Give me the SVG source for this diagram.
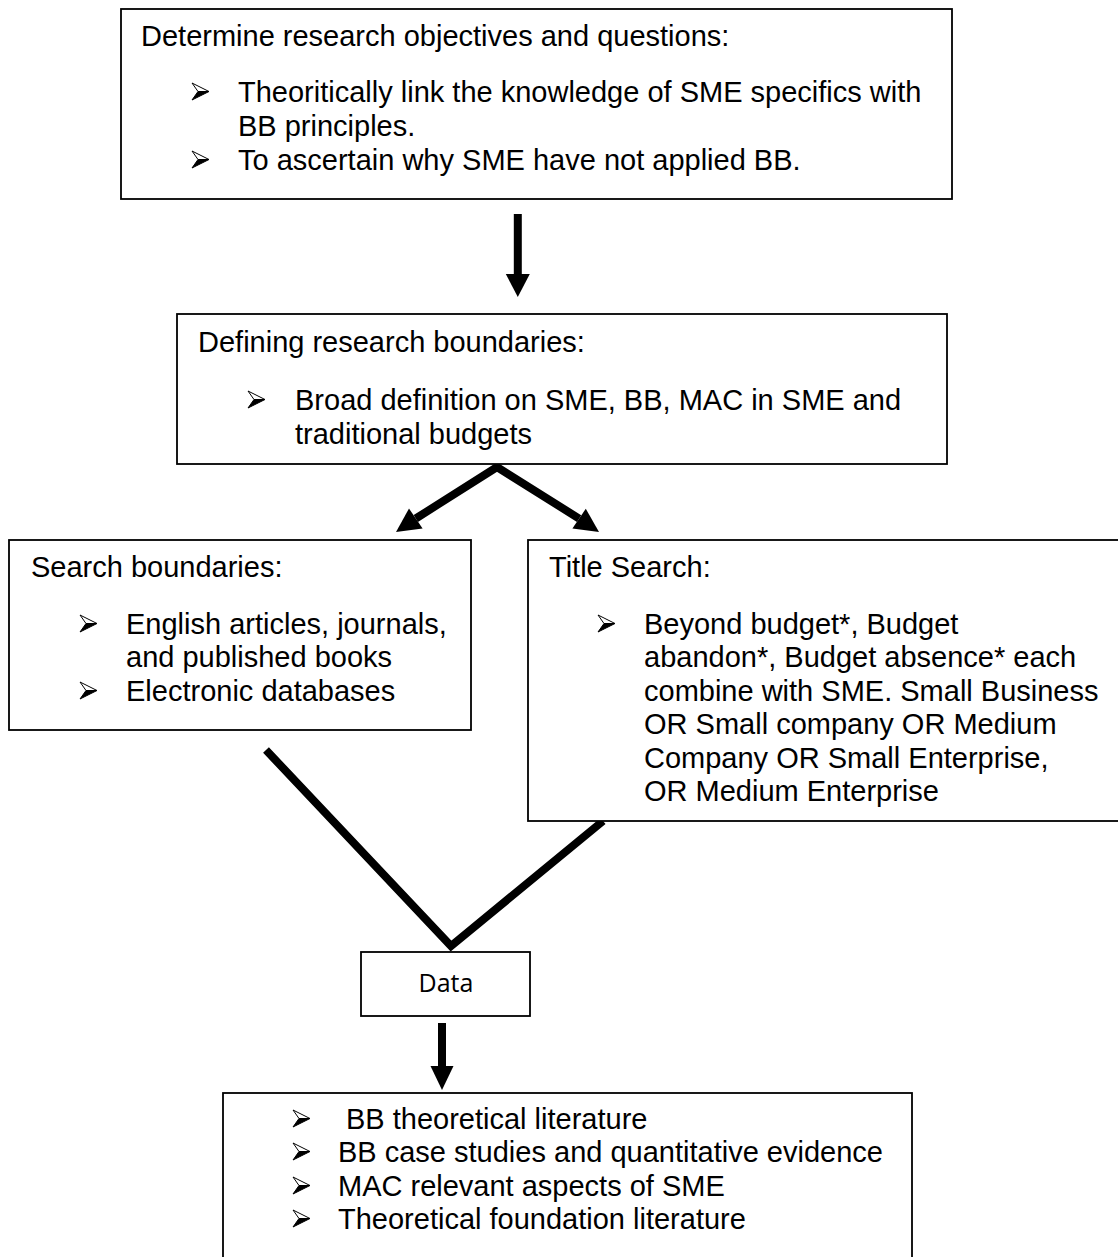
<svg xmlns="http://www.w3.org/2000/svg" xmlns:xlink="http://www.w3.org/1999/xlink" width="1118" height="1257" viewBox="0 0 1118 1257">
<style>
.box{fill:#fff;stroke:#000;stroke-width:1.8}
.t{font-family:"Liberation Sans",Arial,sans-serif;font-size:29px;fill:#000}
.d{font-family:"Open Sans","Noto Sans",sans-serif;font-size:25px;fill:#000}
.ln{fill:none;stroke:#000;stroke-width:8;stroke-linejoin:miter;stroke-miterlimit:10}
.hd{fill:#000;stroke:none}
</style>
<defs>
<g id="bul">
<polygon points="0,0 17,8.5 6,8.5" fill="#fff" stroke="#000" stroke-width="1"/>
<polygon points="6,8.5 17,8.5 0,17" fill="#000" stroke="#000" stroke-width="1" stroke-linejoin="round"/>
</g>
</defs>
<rect width="1118" height="1257" fill="#fff"/>
<g id="connectors">
<line class="ln" x1="517.8" y1="214" x2="517.8" y2="276"/>
<polygon class="hd" points="505.8,274 529.8,274 517.8,297"/>
<polyline class="ln" points="415.8,518.5 497,467 579.1,518.6"/>
<polygon class="hd" points="396,532 422.6,528.4 409,508.6"/>
<polygon class="hd" points="599,532 572.4,528.5 585.8,508.7"/>
<polyline class="ln" points="266,750 451,946 603,821"/>
<line class="ln" x1="442" y1="1023" x2="442" y2="1068"/>
<polygon class="hd" points="430.5,1066 453.5,1066 442,1090"/>
</g>
<g id="node-objectives">
<rect class="box" x="121" y="9" width="831" height="190"/>
<text class="t" x="141" y="46">Determine research objectives and questions:</text>
<use xlink:href="#bul" x="192" y="83"/>
<text class="t" x="238" y="102">Theoritically link the knowledge of SME specifics with</text>
<text class="t" x="238" y="136">BB principles.</text>
<use xlink:href="#bul" x="192" y="151"/>
<text class="t" x="238" y="170">To ascertain why SME have not applied BB.</text>
</g>
<g id="node-boundaries">
<rect class="box" x="177" y="314" width="770" height="150"/>
<text class="t" x="198" y="352">Defining research boundaries:</text>
<use xlink:href="#bul" x="248" y="391"/>
<text class="t" x="295" y="410">Broad definition on SME, BB, MAC in SME and</text>
<text class="t" x="295" y="444">traditional budgets</text>
</g>
<g id="node-search">
<rect class="box" x="9" y="540" width="462" height="190"/>
<text class="t" x="31" y="577">Search boundaries:</text>
<use xlink:href="#bul" x="80" y="615"/>
<text class="t" x="126" y="634">English articles, journals,</text>
<text class="t" x="126" y="667">and published books</text>
<use xlink:href="#bul" x="80" y="682"/>
<text class="t" x="126" y="701">Electronic databases</text>
</g>
<g id="node-title">
<rect class="box" x="528" y="540" width="600" height="281"/>
<text class="t" x="549" y="577">Title Search:</text>
<use xlink:href="#bul" x="598" y="615"/>
<text class="t" x="644" y="634">Beyond budget*, Budget</text>
<text class="t" x="644" y="667">abandon*, Budget absence* each</text>
<text class="t" x="644" y="701">combine with SME. Small Business</text>
<text class="t" x="644" y="734">OR Small company OR Medium</text>
<text class="t" x="644" y="768">Company OR Small Enterprise,</text>
<text class="t" x="644" y="801">OR Medium Enterprise</text>
</g>
<g id="node-data">
<rect class="box" x="361" y="952" width="169" height="64"/>
<text class="d" x="446" y="992" text-anchor="middle">Data</text>
</g>
<g id="node-literature">
<rect class="box" x="223" y="1093" width="689" height="175"/>
<use xlink:href="#bul" x="293" y="1110"/>
<text class="t" x="346" y="1129">BB theoretical literature</text>
<use xlink:href="#bul" x="293" y="1143"/>
<text class="t" x="338" y="1162">BB case studies and quantitative evidence</text>
<use xlink:href="#bul" x="293" y="1177"/>
<text class="t" x="338" y="1196">MAC relevant aspects of SME</text>
<use xlink:href="#bul" x="293" y="1210"/>
<text class="t" x="338" y="1229">Theoretical foundation literature</text>
</g>
</svg>
